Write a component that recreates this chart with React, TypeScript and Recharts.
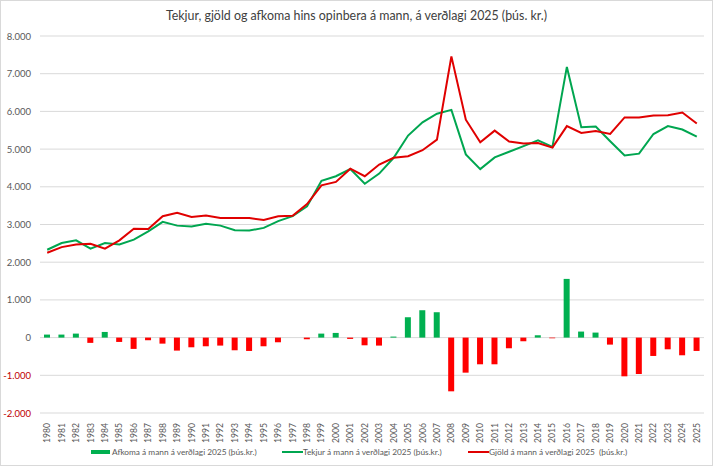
import React from "react";
import {
  ComposedChart,
  Bar,
  Line,
  Cell,
  XAxis,
  YAxis,
  CartesianGrid,
  Legend,
} from "recharts";

const years = [
  1980, 1981, 1982, 1983, 1984, 1985, 1986, 1987, 1988, 1989, 1990, 1991,
  1992, 1993, 1994, 1995, 1996, 1997, 1998, 1999, 2000, 2001, 2002, 2003,
  2004, 2005, 2006, 2007, 2008, 2009, 2010, 2011, 2012, 2013, 2014, 2015,
  2016, 2017, 2018, 2019, 2020, 2021, 2022, 2023, 2024, 2025,
];

// Tekjur á mann (þús.kr.)
const tekjur = [
  2330, 2510, 2580, 2360, 2510, 2470, 2600, 2820, 3070, 2970, 2950, 3020,
  2970, 2850, 2840, 2910, 3090, 3220, 3480, 4160, 4280, 4470, 4080, 4350,
  4770, 5360, 5710, 5940, 6040, 4860, 4470, 4780, 4930, 5080, 5230, 5060,
  7180, 5580, 5600, 5210, 4830, 4880, 5400, 5610, 5520, 5330,
];

// Gjöld á mann (þús.kr.)
const gjold = [
  2250, 2400, 2470, 2490, 2360, 2580, 2890, 2880, 3220, 3310, 3200, 3240,
  3170, 3170, 3170, 3120, 3220, 3230, 3540, 4040, 4130, 4480, 4280, 4590,
  4770, 4810, 4970, 5250, 7460, 5780, 5180, 5490, 5200, 5150, 5160, 5040,
  5610, 5430, 5480, 5400, 5840, 5840, 5890, 5900, 5970, 5680,
];

// Afkoma á mann (þús.kr.)
const afkoma = [
  80, 80, 106, -140, 150, -115, -300, -70, -160, -345, -257, -230,
  -212, -336, -354, -230, -124, 0, -44, 106, 124, -35, -204, -212,
  27, 540, 726, 673, -1425, -930, -708, -708, -283, -97, 62, -18,
  1557, 160, 133, -186, -1027, -965, -487, -310, -469, -354,
];

const yTicks = [-2000, -1000, 0, 1000, 2000, 3000, 4000, 5000, 6000, 7000, 8000];

const GREEN = "#00B050";
const LINE_GREEN = "#00A650";
const RED = "#FF0000";
const LINE_RED = "#E00000";
const FONT = "Lato, 'Open Sans', sans-serif";

const data = years.map((y, i) => ({
  year: String(y),
  afkoma: afkoma[i],
  tekjur: tekjur[i],
  gjold: gjold[i],
}));

const fmt = (v: number) =>
  v.toLocaleString("de-DE", { maximumFractionDigits: 0 });

function YTick({ x, y, payload }: any) {
  const v = payload.value as number;
  return (
    <text
      x={x - 1}
      y={y}
      dy={3.5}
      textAnchor="end"
      fontSize={9.5}
      fontFamily={FONT}
      fill={v < 0 ? "#C00000" : "#595959"}
    >
      {fmt(v)}
    </text>
  );
}

function XTick({ x, y, payload }: any) {
  return (
    <g transform={`translate(${x},${y})`}>
      <text
        transform="rotate(-90)"
        x={-2}
        y={0}
        dy={3}
        textAnchor="end"
        fontSize={8.6}
        fontFamily={FONT}
        fill="#595959"
      >
        {payload.value}
      </text>
    </g>
  );
}

function LegendBox() {
  const label: React.CSSProperties = {
    fontSize: 8.3,
    color: "#595959",
    fontFamily: FONT,
    whiteSpace: "nowrap",
  };
  const item = (left: number): React.CSSProperties => ({
    position: "absolute",
    left,
    top: 0,
    height: 16,
    display: "flex",
    alignItems: "center",
  });
  return (
    <div style={{ position: "relative", height: 16, top: 3 }}>
      <div style={item(90)}>
        <span style={{ width: 19, height: 4, background: GREEN, marginRight: 2 }} />
        <span style={label}>Afkoma á mann á verðlagi 2025 (þús.kr.)</span>
      </div>
      <div style={item(281)}>
        <span style={{ width: 21, height: 2, background: LINE_GREEN }} />
        <span style={label}>Tekjur á mann á verðlagi 2025 (þús.kr.)</span>
      </div>
      <div style={item(467)}>
        <span style={{ width: 21, height: 2, background: LINE_RED }} />
        <span style={label}>Gjöld á mann á verðlagi 2025 {"\u00a0"}(þús.kr.)</span>
      </div>
    </div>
  );
}

export default function App() {
  return (
    <div
      style={{
        position: "absolute",
        left: 0,
        top: 0,
        width: 711,
        height: 464,
        border: "1px solid #d9d9d9",
        background: "#fff",
        fontFamily: FONT,
      }}
    >
      <div
        style={{
          position: "absolute",
          top: 7,
          left: 0,
          width: "100%",
          textAlign: "center",
          fontSize: 12.4,
          color: "#404040",
        }}
      >
        Tekjur, gjöld og afkoma hins opinbera á mann, á verðlagi 2025 (þús. kr.)
      </div>
      <ComposedChart
        width={711}
        height={464}
        data={data}
        margin={{ top: 35, right: 8, bottom: 0, left: 0 }}
        barSize={6}
      >
        <CartesianGrid vertical={false} stroke="#d9d9d9" />
        <XAxis
          dataKey="year"
          interval={0}
          axisLine={false}
          tickLine={false}
          height={28}
          tick={<XTick />}
        />
        <YAxis
          domain={[-2000, 8000]}
          ticks={yTicks}
          axisLine={false}
          tickLine={false}
          width={39}
          tick={<YTick />}
        />
        <Legend verticalAlign="bottom" height={24} content={<LegendBox />} />
        <Bar dataKey="afkoma" isAnimationActive={false}>
          {data.map((d) => (
            <Cell key={d.year} fill={d.afkoma >= 0 ? GREEN : RED} />
          ))}
        </Bar>
        <Line
          dataKey="tekjur"
          stroke={LINE_GREEN}
          strokeWidth={2}
          dot={false}
          isAnimationActive={false}
        />
        <Line
          dataKey="gjold"
          stroke={LINE_RED}
          strokeWidth={2}
          dot={false}
          isAnimationActive={false}
        />
      </ComposedChart>
    </div>
  );
}
